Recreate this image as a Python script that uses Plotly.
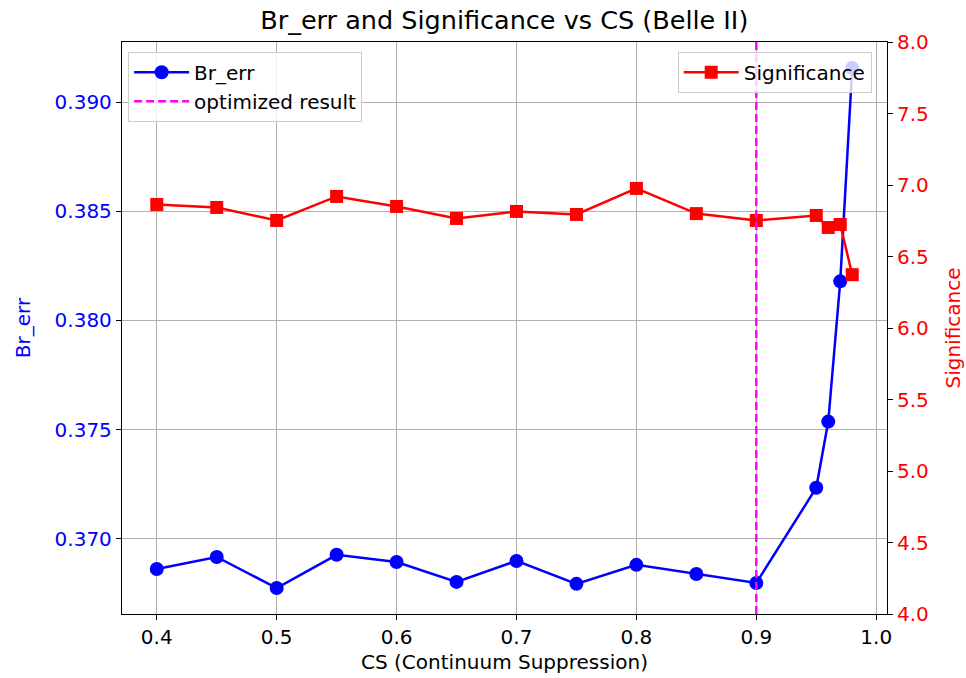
import plotly.graph_objects as go

cs = [0.40, 0.45, 0.50, 0.55, 0.60, 0.65, 0.70, 0.75, 0.80, 0.85, 0.90, 0.95, 0.96, 0.97, 0.98]
br_err = [0.36862, 0.36917, 0.36775, 0.36927, 0.36894, 0.36803, 0.36899, 0.36794,
          0.36881, 0.36839, 0.36798, 0.37234, 0.37537, 0.38179, 0.39156]
significance = [6.864, 6.843, 6.752, 6.920, 6.850, 6.766, 6.815, 6.794,
                6.976, 6.800, 6.752, 6.787, 6.703, 6.724, 6.373]
opt_cs = 0.9
x_ticks = [0.4, 0.5, 0.6, 0.7, 0.8, 0.9, 1.0]
br_ticks = [0.370, 0.375, 0.380, 0.385, 0.390]
sig_ticks = [4.0, 4.5, 5.0, 5.5, 6.0, 6.5, 7.0, 7.5, 8.0]

FONT = "DejaVu Sans"
FS = 20
BLUE = "#0000ff"
RED = "#ff0000"

fig = go.Figure()
fig.add_trace(go.Scatter(
    x=cs, y=br_err, mode="lines+markers", name="Br_err",
    line=dict(color=BLUE, width=2.5),
    marker=dict(symbol="circle", size=14, color=BLUE),
    yaxis="y", legend="legend",
))
fig.add_trace(go.Scatter(
    x=[None], y=[None], mode="lines", name="optimized result",
    line=dict(color="magenta", width=2.5, dash="8px,4px"),
    yaxis="y", legend="legend",
))
fig.add_trace(go.Scatter(
    x=cs, y=significance, mode="lines+markers", name="Significance",
    line=dict(color=RED, width=2.5),
    marker=dict(symbol="square", size=13, color=RED),
    yaxis="y2", legend="legend2",
))

fig.add_shape(type="line", x0=opt_cs, x1=opt_cs, xref="x", y0=0, y1=1, yref="paper",
              line=dict(color="magenta", width=2.5, dash="8px,4px"), layer="above")

legend_style = dict(
    bgcolor="rgba(255,255,255,0.8)", bordercolor="#cccccc", borderwidth=1,
    font=dict(family=FONT, size=FS, color="#000000"),
    yanchor="top", y=0.983, tracegroupgap=2, itemwidth=55,
)

fig.update_layout(
    width=966, height=678,
    margin=dict(l=122, r=79, t=42, b=64, autoexpand=False),
    paper_bgcolor="white", plot_bgcolor="white",
    font=dict(family=FONT, size=FS, color="#000000"),
    title=dict(text="Br_err and Significance vs CS (Belle II)", x=0.522, xanchor="center",
               y=0.970, yanchor="middle", font=dict(family=FONT, size=25.5, color="#000000")),
    xaxis=dict(
        range=[0.371, 1.009], tickvals=x_ticks, tickformat=".1f", automargin=False,
        showgrid=True, gridcolor="#b0b0b0", gridwidth=1,
        showline=True, linecolor="black", linewidth=1.3, mirror=True,
        ticks="outside", ticklen=5, tickcolor="black", zeroline=False,
        title=dict(text="CS (Continuum Suppression)", standoff=6,
                   font=dict(family=FONT, size=FS, color="#000000")),
        tickfont=dict(family=FONT, size=FS, color="#000000"),
    ),
    yaxis=dict(
        range=[0.36656, 0.39275], tickvals=br_ticks, tickformat=".3f", automargin=False,
        showgrid=True, gridcolor="#b0b0b0", gridwidth=1,
        showline=True, linecolor="black", linewidth=1.3, mirror=True,
        ticks="outside", ticklen=5, tickcolor="black", zeroline=False,
        title=dict(text="Br_err", standoff=18, font=dict(family=FONT, size=FS, color=BLUE)),
        tickfont=dict(family=FONT, size=FS, color=BLUE),
    ),
    yaxis2=dict(
        overlaying="y", side="right", range=[4, 8], tickvals=sig_ticks, tickformat=".1f",
        automargin=False, showgrid=False, zeroline=False, showline=False,
        ticks="outside", ticklen=5, tickcolor="black",
        title=dict(text="Significance", standoff=18, font=dict(family=FONT, size=FS, color=RED)),
        tickfont=dict(family=FONT, size=FS, color=RED),
    ),
    legend=dict(legend_style, x=0.008, xanchor="left"),
    legend2=dict(legend_style, x=0.98, xanchor="right"),
    showlegend=True,
)

fig.write_html("out.html")
